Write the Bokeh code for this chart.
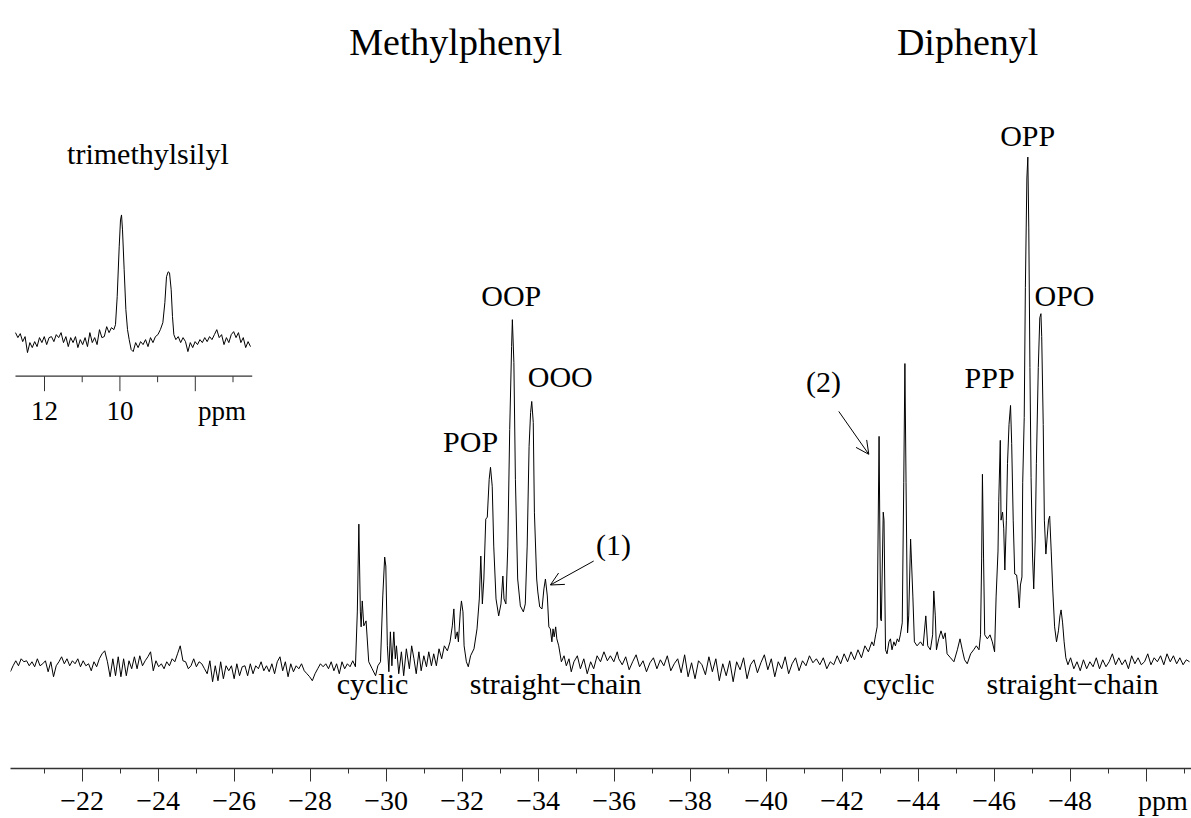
import numpy as np
from bokeh.plotting import figure
from bokeh.models import Range1d, SingleIntervalTicker, Arrow, OpenHead
from bokeh.core.properties import value
from bokeh.embed import file_html
from bokeh.resources import INLINE

FONT = "Liberation Serif"
MINUS = "\u2212"

# ---------------- main 29Si spectrum (ppm, intensity a.u.) ----------------
noise1_start, noise1_end = -20.11, -29.12
noise1_int = [-5, 1, 6, 1, 8, 5, 6, 1, 5, 0, 8, 1, 3, 6, -5, 5, -10, 1, 5, 10, 3, 8, 1, 6, 3, 8,
              0, 6, 1, 3, -4, 5, 0, 8, 13, 16, 5, -10, 8, -9, 10, -10, 8, -9, 6, -2, 10, -2, 11,
              1, 6, 10, 15, -4, 6, 0, 3, -2, 5, 1, 8, 5, 13, 21, 6, 5, -2, 1, 8, 0, 5, 3, -2, -7,
              6, -15, 1, -14, 5, -12, 1, -4, 1, -12, 3, -9, 0, 1, -9, 3, -7, 1, -2, 5, -4, 1, -5,
              3, -7, 5, 10, -4, 5, -10, 3, -5, 1, -2, 3, -4, -7, -10, -14, -7, -2, 3, 0, 3, -2,
              5, -4, 3, -7, 5, -2, 3, 0, 6]

peaksA_ppm = [-29.19, -29.24, -29.28, -29.32, -29.34, -29.37, -29.41, -29.47, -29.54, -29.63,
              -29.72, -29.78, -29.85, -29.91, -29.96, -29.99, -30.03, -30.07, -30.11, -30.15,
              -30.20, -30.24, -30.27, -30.33, -30.40, -30.46, -30.53, -30.61, -30.67, -30.73,
              -30.79, -30.86, -30.92, -30.99, -31.06, -31.12, -31.19, -31.25, -31.32, -31.39,
              -31.46, -31.53, -31.61, -31.68, -31.74, -31.78, -31.82, -31.87, -31.90, -31.95,
              -31.98, -32.02, -32.05, -32.11, -32.16, -32.22, -32.31, -32.39, -32.45, -32.49,
              -32.53, -32.57, -32.62, -32.66, -32.71, -32.745, -32.79, -32.83, -32.89, -32.96,
              -33.02, -33.07, -33.10, -33.15, -33.20, -33.25, -33.30, -33.32, -33.36, -33.40,
              -33.46, -33.53, -33.61, -33.66, -33.71, -33.76, -33.80, -33.83, -33.87, -33.90,
              -33.96, -33.99, -34.04, -34.10, -34.15, -34.19, -34.24, -34.28, -34.32, -34.36,
              -34.39, -34.42, -34.46, -34.49, -34.54, -34.61, -34.68, -34.74, -34.81, -34.87,
              -34.94, -35.03, -35.11, -35.20, -35.29, -35.38, -35.46, -35.55, -35.64, -35.73,
              -35.82, -35.90, -35.99, -36.08]
peaksA_int = [0, 55, 143, 55, 40, 66, 41, 46, 5, -2, -9, 1, 5, 71, 110, 101, 21, -5, 35, 1, 35,
              8, 21, -7, 15, -9, 18, -2, 21, 8, -7, 15, -4, 11, 0, 15, 1, 13, 1, 18, 8, 21, 16,
              25, 41, 58, 28, 35, 25, 55, 66, 55, 21, 5, 0, 11, 18, 38, 68, 111, 63, 88, 148,
              150, 188, 200, 181, 121, 68, 51, 63, 91, 68, 63, 121, 238, 321, 348, 305, 188, 88,
              61, 55, 63, 121, 221, 255, 266, 245, 155, 88, 75, 60, 58, 78, 88, 71, 40, 38, 25,
              38, 30, 40, 28, 21, 5, 11, 1, 8, -5, 5, 11, -2, 8, -7, 5, -2, 11, 5, 15, 6, 11, 5,
              15]

noise2_start, noise2_end = -36.12, -42.78
noise2_int = [8, 2, 10, -3, 5, 12, 0, 6, -5, 4, 9, -2, 7, 1, 11, -4, 3, 8, -6, 12, -10, 4, -12,
              6, 2, -8, 10, -5, 8, -14, 3, -9, 6, -15, 5, -3, 9, -12, 2, 7, -6, 4, 12, -3, 8,
              -10, 5, -2, 10, -7, 3, 9, -4, 6, 1, 11, 4, 8, 2, 9, -2, 5, 2, 11, 3, 13, 5, 15, 7,
              17, 9, 21, 15, 25]

peaksB_ppm = [-42.83, -42.88, -42.92, -42.97, -43.01, -43.03, -43.08, -43.10, -43.14, -43.18,
              -43.23, -43.27, -43.31, -43.36, -43.40, -43.45, -43.49, -43.53, -43.58, -43.62,
              -43.65, -43.68, -43.72, -43.75, -43.80, -43.82, -43.86, -43.90, -43.97, -44.06,
              -44.13, -44.20, -44.25, -44.32, -44.38, -44.41, -44.45, -44.48, -44.54, -44.60,
              -44.66, -44.71, -44.76, -44.85, -44.94, -45.03, -45.10, -45.16, -45.22, -45.29,
              -45.38, -45.46, -45.53, -45.60, -45.64, -45.67, -45.69, -45.72, -45.75, -45.82,
              -45.89, -45.95, -46.01, -46.05, -46.10, -46.12, -46.16, -46.18, -46.22, -46.25,
              -46.28, -46.32, -46.35, -46.39, -46.43, -46.46, -46.50, -46.54, -46.59, -46.62,
              -46.66, -46.69, -46.73, -46.75, -46.79, -46.82, -46.86, -46.885, -46.91, -46.94,
              -46.97, -47.01, -47.04, -47.08, -47.11, -47.16, -47.20, -47.23, -47.25, -47.29,
              -47.32, -47.36, -47.39, -47.43, -47.46, -47.50, -47.54, -47.59, -47.64, -47.69,
              -47.73, -47.76, -47.80, -47.84, -47.885, -47.94]
peaksB_int = [21, 32, 40, 231, 48, 46, 155, 147, 17, 13, 25, 28, 17, 25, 21, 28, 25, 32, 44, 185,
              304, 185, 34, 51, 128, 109, 70, 25, 21, 25, 21, 51, 21, 17, 32, 76, 51, 17, 28, 36,
              28, 34, 13, 9, 5, 17, 28, 17, 7, 3, 13, 17, 21, 17, 32, 109, 193, 109, 32, 28, 32,
              25, 15, 70, 116, 166, 227, 147, 155, 139, 97, 147, 204, 243, 262, 224, 147, 93, 92,
              82, 59, 82, 90, 185, 250, 380, 490, 511, 440, 300, 190, 109, 78, 128, 204, 300,
              350, 354, 331, 243, 147, 113, 128, 147, 151, 116, 78, 40, 25, 36, 51, 57, 44, 25,
              9, 2]

noise3_start, noise3_end = -48.01, -51.14
noise3_int = [9, -2, 5, -4, 7, -2, 5, 0, 9, -2, 7, 0, 5, 13, 2, 9, 2, 7, -2, 11, 3, 9, 2, 5, 13,
              2, 9, 5, 11, 2, 13, 5, 11, 3, 9, 2, 7, 5]

# ---------------- inset: trimethylsilyl region ----------------
inset_noise1_start, inset_noise1_end = 12.77, 10.16
inset_noise1_int = [7, 2, 6, -2, 3, -13, -3, -8, -2, -7, 2, -3, 3, -5, 2, 3, -2, 5, 2, 7, -3, 3,
                    -7, 2, -3, 3, -8, 0, -5, 2, -7, 7, -3, 2, -5, 10, 2, 3, 13, 7, 12, 10]
inset_peak1_ppm = [10.117, 10.072, 10.019, 9.984, 9.957, 9.931, 9.887, 9.842, 9.798, 9.754, 9.701]
inset_peak1_int = [15, 43, 93, 120, 125, 110, 70, 30, 10, 0, -10]
inset_noise2_start, inset_noise2_end = 9.648, 8.861
inset_noise2_int = [-12, -3, -8, -2, -5, 0, -7, 2, -3, 3, 5, 10, 17]
inset_peak2_ppm = [8.808, 8.764, 8.720, 8.684, 8.640, 8.605, 8.569]
inset_peak2_int = [37, 63, 68, 67, 50, 23, 5]
inset_noise3_start, inset_noise3_end = 8.516, 6.536
inset_noise3_int = [0, 3, -3, 2, -2, -12, -3, -8, -2, -5, 0, -3, 2, -2, 3, 0, 5, 10, 2, 5, -5, 2,
                    -3, 5, 8, 2, 7, -3, 2, -8, -2, -7]
inset_axis_ppm = [12.77, 6.49]
inset_major_ticks = [12, 10, 8]
inset_minor_ticks = [11, 9, 7]
inset_tick_labels = ["12", "10", "ppm"]
inset_tick_label_ppm = [12, 10, 7.29]
inset_tick_label_int = [-72, -72, -72]

# ---------------- axis labels ----------------
main_tick_values = [-22, -24, -26, -28, -30, -32, -34, -36, -38, -40, -42, -44, -46, -48]
main_tick_labels = [MINUS + str(abs(v)) for v in main_tick_values]
unit_tick_value = -50
unit_tick_label = "\u2003\u2009ppm"

# ---------------- annotations ----------------
title_texts = ["Methylphenyl", "Diphenyl"]
title_ppm = [-31.83, -45.30]
title_int = [626, 626]

inset_title_ppm, inset_title_int = -23.73, 515

peak_texts = ["POP", "OOP", "OOO", "(1)", "(2)", "PPP", "OPP", "OPO"]
peak_ppm = [-32.22, -33.29, -34.58, -35.98, -41.51, -45.88, -46.88, -47.85]
peak_int = [226, 372, 291, 123, 286, 290, 533, 372]

region_texts = ["cyclic", "straight" + MINUS + "chain", "cyclic", "straight" + MINUS + "chain"]
region_ppm = [-29.64, -34.46, -43.49, -48.06]
region_int = [-17, -17, -17, -17]

arrow_tail_ppm = [-35.46, -41.91]
arrow_tail_int = [106, 256]
arrow_tip_ppm = [-34.32, -42.70]
arrow_tip_int = [82, 213]

# ---------------- assemble ----------------
main_ppm = np.concatenate([
    np.linspace(noise1_start, noise1_end, len(noise1_int)), peaksA_ppm,
    np.linspace(noise2_start, noise2_end, len(noise2_int)), peaksB_ppm,
    np.linspace(noise3_start, noise3_end, len(noise3_int))])
main_int = np.concatenate([noise1_int, peaksA_int, noise2_int, peaksB_int, noise3_int])

inset_ppm = np.concatenate([
    np.linspace(inset_noise1_start, inset_noise1_end, len(inset_noise1_int)), inset_peak1_ppm,
    np.linspace(inset_noise2_start, inset_noise2_end, len(inset_noise2_int)), inset_peak2_ppm,
    np.linspace(inset_noise3_start, inset_noise3_end, len(inset_noise3_int))])
inset_int = np.concatenate([inset_noise1_int, inset_peak1_int, inset_noise2_int,
                            inset_peak2_int, inset_noise3_int])

p = figure(width=1191, height=818,
           x_range=Range1d(-20.113, -51.192), y_range=Range1d(-102, 668),
           y_axis_location=None, output_backend="svg", toolbar_location=None,
           min_border_left=10, min_border_right=0, min_border_top=0, min_border_bottom=48)
p.extra_x_ranges = {"inset": Range1d(12.902, -18.424)}
p.extra_y_ranges = {"inset": Range1d(-430, 340)}
p.grid.visible = False
p.outline_line_color = None
p.background_fill_color = "white"
p.border_fill_color = "white"

ax = p.xaxis[0]
ax.ticker = SingleIntervalTicker(interval=2, num_minor_ticks=2)
overrides = {v: t for v, t in zip(main_tick_values, main_tick_labels)}
overrides[unit_tick_value] = unit_tick_label
ax.major_label_overrides = overrides
ax.major_label_text_font = FONT
ax.major_label_text_font_size = "28px"
ax.major_label_text_color = "black"
ax.major_label_standoff = 3
ax.axis_line_color = "#333333"
ax.axis_line_width = 1.3
ax.major_tick_line_color = "#333333"
ax.minor_tick_line_color = "#333333"
ax.major_tick_out = 13
ax.major_tick_in = 0
ax.minor_tick_out = 5
ax.minor_tick_in = 0

# spectra
p.line(main_ppm, main_int, line_color="black", line_width=1.0)
p.line(inset_ppm, inset_int, line_color="black", line_width=1.0,
       x_range_name="inset", y_range_name="inset")

# inset axis
p.segment(x0=[inset_axis_ppm[0]], x1=[inset_axis_ppm[1]], y0=[-36.7], y1=[-36.7],
          line_color="#333333", line_width=1.3, x_range_name="inset", y_range_name="inset")
p.segment(x0=inset_major_ticks, x1=inset_major_ticks, y0=[-36.7] * 3, y1=[-51.7] * 3,
          line_color="#333333", line_width=1.0, x_range_name="inset", y_range_name="inset")
p.segment(x0=inset_minor_ticks, x1=inset_minor_ticks, y0=[-36.7] * 3, y1=[-42.7] * 3,
          line_color="#333333", line_width=1.0, x_range_name="inset", y_range_name="inset")
p.text(x=inset_tick_label_ppm, y=inset_tick_label_int, text=inset_tick_labels,
       text_font=value(FONT), text_font_size=value("27px"), text_align="center",
       text_baseline="alphabetic", text_color="black",
       x_range_name="inset", y_range_name="inset")
p.text(x=[inset_title_ppm], y=[inset_title_int], text=["trimethylsilyl"], text_font=value(FONT),
       text_font_size=value("30px"), text_align="center", text_baseline="alphabetic",
       text_color="black")

# titles and labels
p.text(x=title_ppm, y=title_int, text=title_texts, text_font=value(FONT),
       text_font_size=value("38px"), text_align="center", text_baseline="alphabetic",
       text_color="black")
p.text(x=peak_ppm, y=peak_int, text=peak_texts, text_font=value(FONT),
       text_font_size=value("30px"), text_align="center", text_baseline="alphabetic",
       text_color="black")
p.text(x=region_ppm, y=region_int, text=region_texts, text_font=value(FONT),
       text_font_size=value("30px"), text_align="center", text_baseline="alphabetic",
       text_color="black")

for xs, ys, xe, ye in zip(arrow_tail_ppm, arrow_tail_int, arrow_tip_ppm, arrow_tip_int):
    p.add_layout(Arrow(end=OpenHead(size=13, line_width=1.0, line_color="black"),
                       x_start=xs, y_start=ys, x_end=xe, y_end=ye,
                       line_width=1.0, line_color="black"))

open("out.html", "w").write(file_html(p, INLINE))
